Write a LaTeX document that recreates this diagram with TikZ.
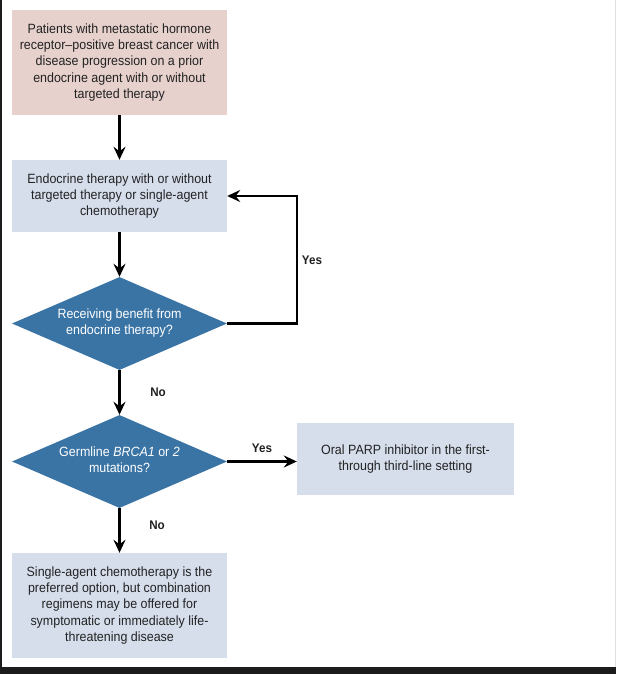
\documentclass[tikz,border=0pt]{standalone}
\usepackage{fontspec}
\setmainfont{Liberation Sans}[FakeStretch=0.93]
\usetikzlibrary{shapes.geometric,arrows.meta}
\definecolor{pinkbox}{HTML}{E7D1CD}
\definecolor{bluebox}{HTML}{D6DEEC}
\definecolor{decision}{HTML}{3A74A5}
\definecolor{frame}{HTML}{1C1C1C}
\definecolor{ink}{HTML}{222222}
\begin{document}
\begin{tikzpicture}[x=1pt,y=-1pt,
  txt/.style={font=\fontsize{13.4}{16.3}\selectfont, align=center, text=ink},
  box/.style={txt, rectangle, minimum width=215pt, inner sep=0pt},
  dshape/.style={diamond, fill=decision, minimum width=215pt, minimum height=93pt, inner sep=0pt},
  dtext/.style={txt, text=white},
  lbl/.style={font=\fontsize{12.5}{14}\selectfont\bfseries, text=ink},
  arr/.style={line width=2.2pt, -{Stealth[length=13pt,width=12pt,inset=4.5pt]}, black}]
\useasboundingbox (0,0) rectangle (616,674);
\fill[white] (0,0) rectangle (616,674);
\fill[frame] (0,667) rectangle (616,674);
\fill[frame] (0,0) rectangle (1.5,667);
\fill[black!12] (614.5,0) rectangle (616,667);

\node[box, fill=pinkbox, minimum height=105pt] (n1) at (119.5,62.5)
  {Patients with metastatic hormone\\receptor--positive breast cancer with\\disease progression on a prior\\endocrine agent with or without\\targeted therapy};
\node[box, fill=bluebox, minimum height=72pt] (n2) at (119.5,196)
  {Endocrine therapy with or without\\targeted therapy or single-agent\\chemotherapy};
\node[dshape] (d1) at (119.5,323.5) {};
\node[dtext] (d1t) at (119.5,323) {Receiving benefit from\\endocrine therapy?};
\node[dshape] (d2) at (119.5,461.5) {};
\node[dtext] (d2t) at (119.5,460) {Germline \textit{BRCA1} or \textit{2}\\mutations?};
\node[box, fill=bluebox, minimum width=217pt, minimum height=72pt] (n3) at (405.5,459)
  {Oral PARP inhibitor in the first-\\through third-line setting};
\node[box, fill=bluebox, minimum height=105pt] (n4) at (119.5,605.5)
  {Single-agent chemotherapy is the\\preferred option, but combination\\regimens may be offered for\\symptomatic or immediately life-\\threatening disease};

\draw[arr] (n1.south) -- (n2.north);
\draw[arr] (n2.south) -- (d1.north);
\coordinate (loop) at (297,323.5);
\draw[arr] (d1.east) -- (loop) |- (n2.east);
\draw[arr] (d1.south) -- (d2.north);
\draw[arr] (d2.east) -- (n3.west |- d2.east);
\draw[arr] (d2.south) -- (n4.north);

\node[lbl] (y1) at (312,260) {Yes};
\node[lbl] (no1) at (158,392) {No};
\node[lbl] (y2) at (262,448) {Yes};
\node[lbl] (no2) at (157,525) {No};
\end{tikzpicture}
\end{document}
